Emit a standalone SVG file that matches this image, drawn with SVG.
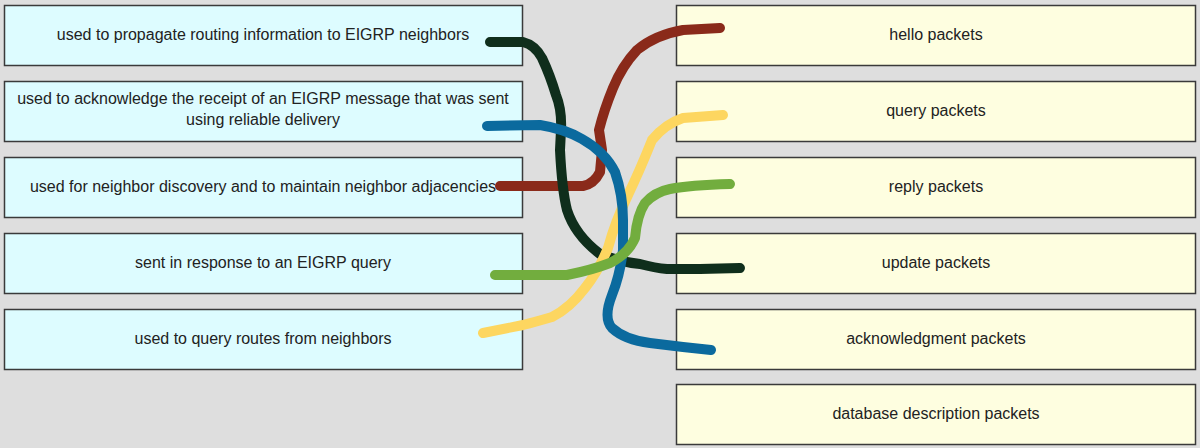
<svg xmlns="http://www.w3.org/2000/svg" width="1200" height="448" viewBox="0 0 1200 448">
<style>
.l{fill:#ddfcff;stroke:#3a3a3a;stroke-width:1.5}
.r{fill:#fefee0;stroke:#3a3a3a;stroke-width:1.5}
text{font-family:"Liberation Sans",Arial,sans-serif;font-size:16px;fill:#222;text-anchor:middle}
.c{fill:none;stroke-width:10;stroke-linecap:round;stroke-linejoin:round}
</style>
<rect width="1200" height="448" fill="#dedede"/>
<g id="left1"><rect class="l" x="4.5" y="5.5" width="518" height="60"/><text x="263" y="40">used to propagate routing information to EIGRP neighbors</text></g>
<g id="left2"><rect class="l" x="4.5" y="81.5" width="518" height="60"/><text x="263" y="104">used to acknowledge the receipt of an EIGRP message that was sent</text><text x="263" y="125">using reliable delivery</text></g>
<g id="left3"><rect class="l" x="4.5" y="157.5" width="518" height="60"/><text x="263" y="192">used for neighbor discovery and to maintain neighbor adjacencies</text></g>
<g id="left4"><rect class="l" x="4.5" y="233.5" width="518" height="60"/><text x="263" y="268">sent in response to an EIGRP query</text></g>
<g id="left5"><rect class="l" x="4.5" y="309.5" width="518" height="60"/><text x="263" y="344">used to query routes from neighbors</text></g>
<g id="right1"><rect class="r" x="676.5" y="5.5" width="519" height="60"/><text x="936" y="40">hello packets</text></g>
<g id="right2"><rect class="r" x="676.5" y="81.5" width="519" height="60"/><text x="936" y="116">query packets</text></g>
<g id="right3"><rect class="r" x="676.5" y="157.5" width="519" height="60"/><text x="936" y="192">reply packets</text></g>
<g id="right4"><rect class="r" x="676.5" y="233.5" width="519" height="60"/><text x="936" y="268">update packets</text></g>
<g id="right5"><rect class="r" x="676.5" y="309.5" width="519" height="60"/><text x="936" y="344">acknowledgment packets</text></g>
<g id="right6"><rect class="r" x="676.5" y="384.5" width="519" height="60"/><text x="936" y="419">database description packets</text></g>
<g id="connectors">
<path class="c" stroke="#8a2a1a" d="M500 186 L583 186 Q594 184 600 172 L602 150 L599 130 Q604 110 613 88 Q622 66 637 50 Q655 35 683 30 L720 28"/>
<path class="c" stroke="#0f2e1c" d="M490 42 L523 42 Q535 45 542 58 Q550 75 556 95 Q562 110 561 130 L560 150 Q562 190 567 210 Q575 235 600 254 Q620 262 640 264 Q655 268 667 269 L700 269 L740 268"/>
<path class="c" stroke="#fdd660" d="M723 115 L683 118 Q665 124 652 140 Q640 170 628 195 Q615 222 608 248 Q598 272 585 288 Q570 308 552 317 Q535 322 523 325 L483 333"/>
<path class="c" stroke="#0b6a9e" d="M487 126 L540 125 Q565 129 582 139 Q605 152 615 172 Q623 195 623 220 L623 250 Q620 275 612 295 Q603 318 612 328 Q625 340 650 343 L683 347 L711 350"/>
<path class="c" stroke="#72ad3e" d="M495 275 L567 275 Q592 270 610 263 Q628 254 635 238 Q637 215 645 203 Q655 192 670 189 Q690 185 730 184"/>
</g>
</svg>
